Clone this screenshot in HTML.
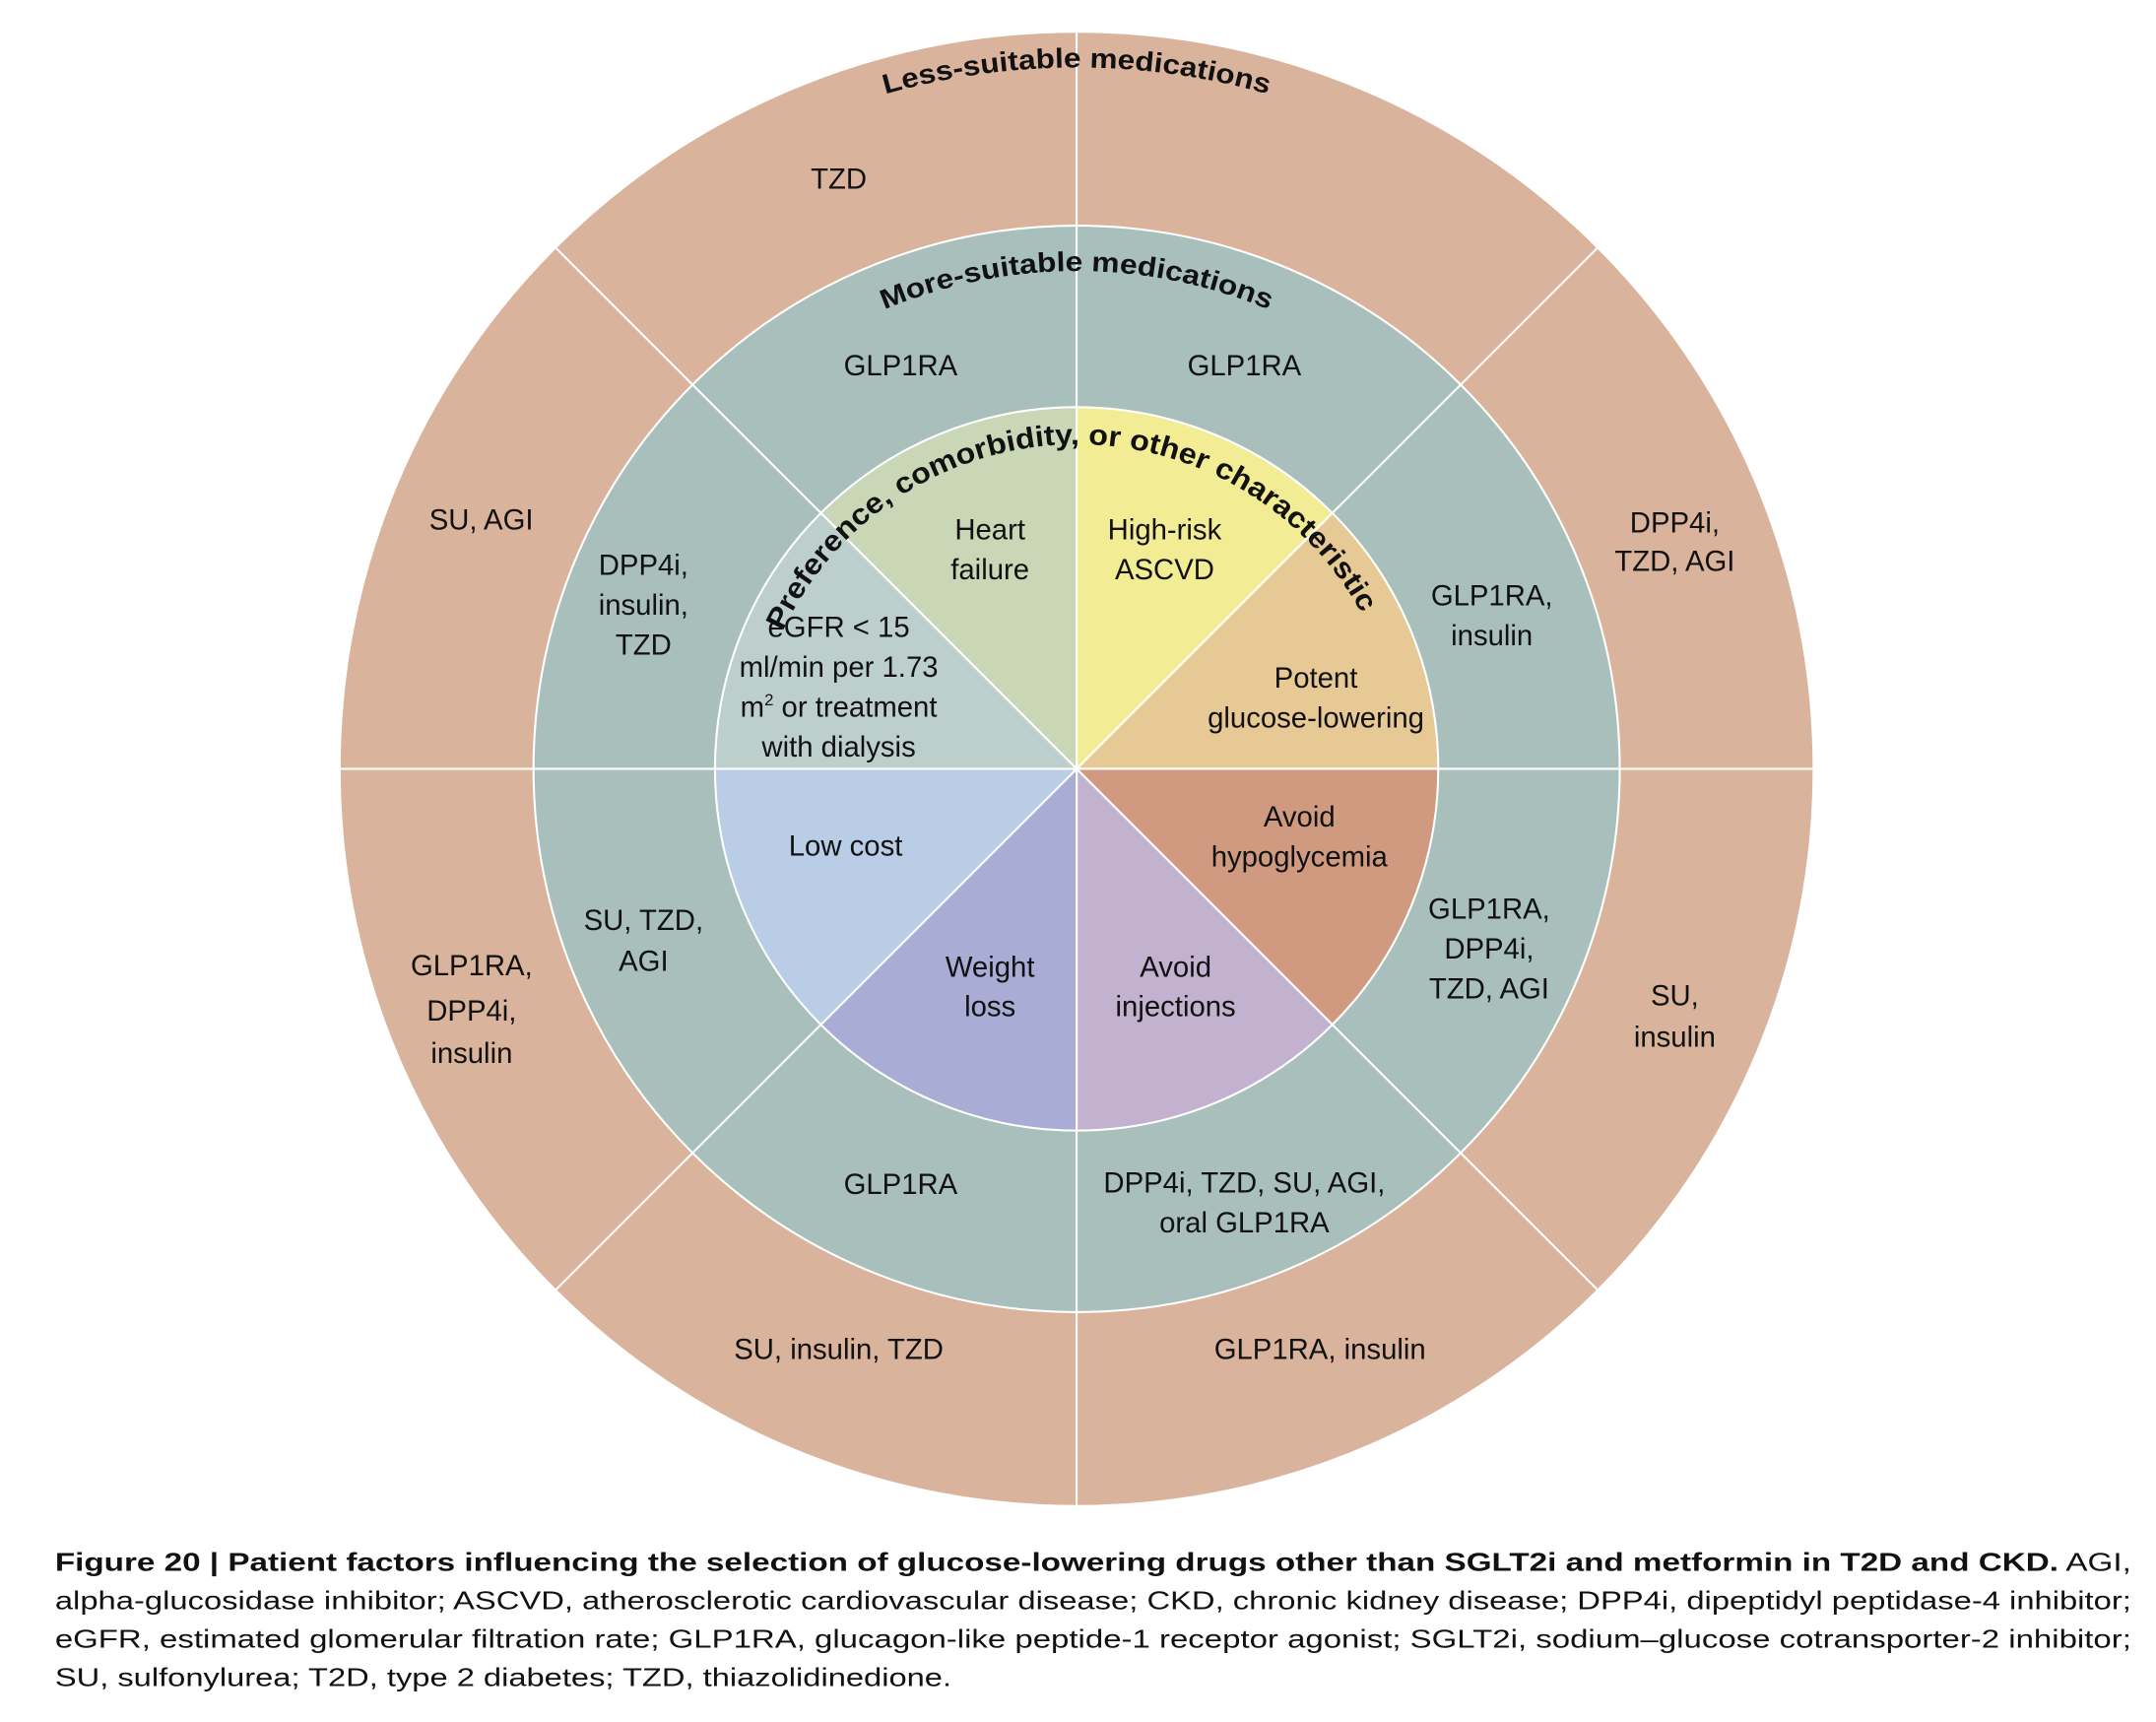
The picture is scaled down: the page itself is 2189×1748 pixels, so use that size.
<!DOCTYPE html>
<html><head><meta charset="utf-8"><style>html,body{margin:0;padding:0;background:#fff}svg{display:block}</style></head>
<body>
<svg width="2189" height="1748" viewBox="0 0 1568 1252" xmlns="http://www.w3.org/2000/svg" font-family="Liberation Sans, sans-serif">
<defs>
<path id="aLess" d="M273,559 A510,510 0 0 1 1293,559"/>
<path id="aMore" d="M421,559 A362,362 0 0 1 1145,559"/>
<path id="aPref" d="M547,559 A236,236 0 0 1 1019,559"/>
</defs>
<g stroke="#fff" stroke-width="1.5">
<circle cx="783" cy="559" r="536" fill="#d9b39c"/>
<circle cx="783" cy="559" r="395" fill="#a8bfbb"/>
<path d="M783,559 L597,373 A263,263 0 0 1 783,296 Z" fill="#cad7b7"/>
<path d="M783,559 L783,296 A263,263 0 0 1 969,373 Z" fill="#f2ec95"/>
<path d="M783,559 L969,373 A263,263 0 0 1 1046,559 Z" fill="#e6c995"/>
<path d="M783,559 L1046,559 A263,263 0 0 1 969,745 Z" fill="#cf9a80"/>
<path d="M783,559 L969,745 A263,263 0 0 1 783,822 Z" fill="#c2b1cf"/>
<path d="M783,559 L783,822 A263,263 0 0 1 597,745 Z" fill="#a9acd4"/>
<path d="M783,559 L597,745 A263,263 0 0 1 520,559 Z" fill="#b9cde6"/>
<path d="M783,559 L520,559 A263,263 0 0 1 597,373 Z" fill="#bccfcd"/>
<line x1="783" y1="23" x2="783" y2="296"/>
<line x1="783" y1="822" x2="783" y2="1095"/>
<line x1="247" y1="559" x2="520" y2="559"/>
<line x1="1046" y1="559" x2="1319" y2="559"/>
<line x1="404" y1="180" x2="597" y2="373"/>
<line x1="1162" y1="180" x2="969" y2="373"/>
<line x1="404" y1="938" x2="597" y2="745"/>
<line x1="1162" y1="938" x2="969" y2="745"/>
</g>
<g font-weight="bold" font-size="20" fill="#111">
<text><textPath href="#aLess" startOffset="50%" text-anchor="middle" textLength="282" lengthAdjust="spacingAndGlyphs">Less-suitable medications</textPath></text>
<text><textPath href="#aMore" startOffset="50%" text-anchor="middle" textLength="287" lengthAdjust="spacingAndGlyphs">More-suitable medications</textPath></text>
<text font-size="21"><textPath href="#aPref" startOffset="49%" text-anchor="middle" textLength="520" lengthAdjust="spacingAndGlyphs">Preference, comorbidity, or other characteristic</textPath></text>
</g>
<g font-size="21" fill="#111" text-anchor="middle">
<text x="610" y="137">TZD</text>
<text x="350" y="385">SU, AGI</text>
<text x="1218" y="387">DPP4i,</text><text x="1218" y="415">TZD, AGI</text>
<text x="343" y="709">GLP1RA,</text><text x="343" y="742">DPP4i,</text><text x="343" y="773">insulin</text>
<text x="1218" y="731">SU,</text><text x="1218" y="761">insulin</text>
<text x="610" y="988">SU, insulin, TZD</text>
<text x="960" y="988">GLP1RA, insulin</text>
<text x="655" y="273">GLP1RA</text>
<text x="905" y="273">GLP1RA</text>
<text x="468" y="418">DPP4i,</text><text x="468" y="447">insulin,</text><text x="468" y="476">TZD</text>
<text x="1085" y="440">GLP1RA,</text><text x="1085" y="469">insulin</text>
<text x="468" y="676">SU, TZD,</text><text x="468" y="706">AGI</text>
<text x="1083" y="668">GLP1RA,</text><text x="1083" y="697">DPP4i,</text><text x="1083" y="726">TZD, AGI</text>
<text x="655" y="868">GLP1RA</text>
<text x="905" y="867">DPP4i, TZD, SU, AGI,</text><text x="905" y="896">oral GLP1RA</text>
<text x="720" y="392">Heart</text><text x="720" y="421">failure</text>
<text x="847" y="392">High-risk</text><text x="847" y="421">ASCVD</text>
<text x="610" y="463">eGFR &lt; 15</text><text x="610" y="492">ml/min per 1.73</text><text x="610" y="521">m<tspan font-size="12" dy="-8">2</tspan><tspan dy="8"> or treatment</tspan></text><text x="610" y="550">with dialysis</text>
<text x="957" y="500">Potent</text><text x="957" y="529">glucose-lowering</text>
<text x="615" y="622">Low cost</text>
<text x="945" y="601">Avoid</text><text x="945" y="630">hypoglycemia</text>
<text x="720" y="710">Weight</text><text x="720" y="739">loss</text>
<text x="855" y="710">Avoid</text><text x="855" y="739">injections</text>
</g>
<g font-size="18.5" fill="#111">
<text x="40" y="1142" textLength="1510" lengthAdjust="spacingAndGlyphs"><tspan font-weight="bold">Figure 20 | Patient factors influencing the selection of glucose-lowering drugs other than SGLT2i and metformin in T2D and CKD.</tspan> AGI,</text>
<text x="40" y="1170" textLength="1510" lengthAdjust="spacingAndGlyphs">alpha-glucosidase inhibitor; ASCVD, atherosclerotic cardiovascular disease; CKD, chronic kidney disease; DPP4i, dipeptidyl peptidase-4 inhibitor;</text>
<text x="40" y="1198" textLength="1510" lengthAdjust="spacingAndGlyphs">eGFR, estimated glomerular filtration rate; GLP1RA, glucagon-like peptide-1 receptor agonist; SGLT2i, sodium–glucose cotransporter-2 inhibitor;</text>
<text x="40" y="1226" textLength="652" lengthAdjust="spacingAndGlyphs">SU, sulfonylurea; T2D, type 2 diabetes; TZD, thiazolidinedione.</text>
</g>
</svg>
</body></html>
